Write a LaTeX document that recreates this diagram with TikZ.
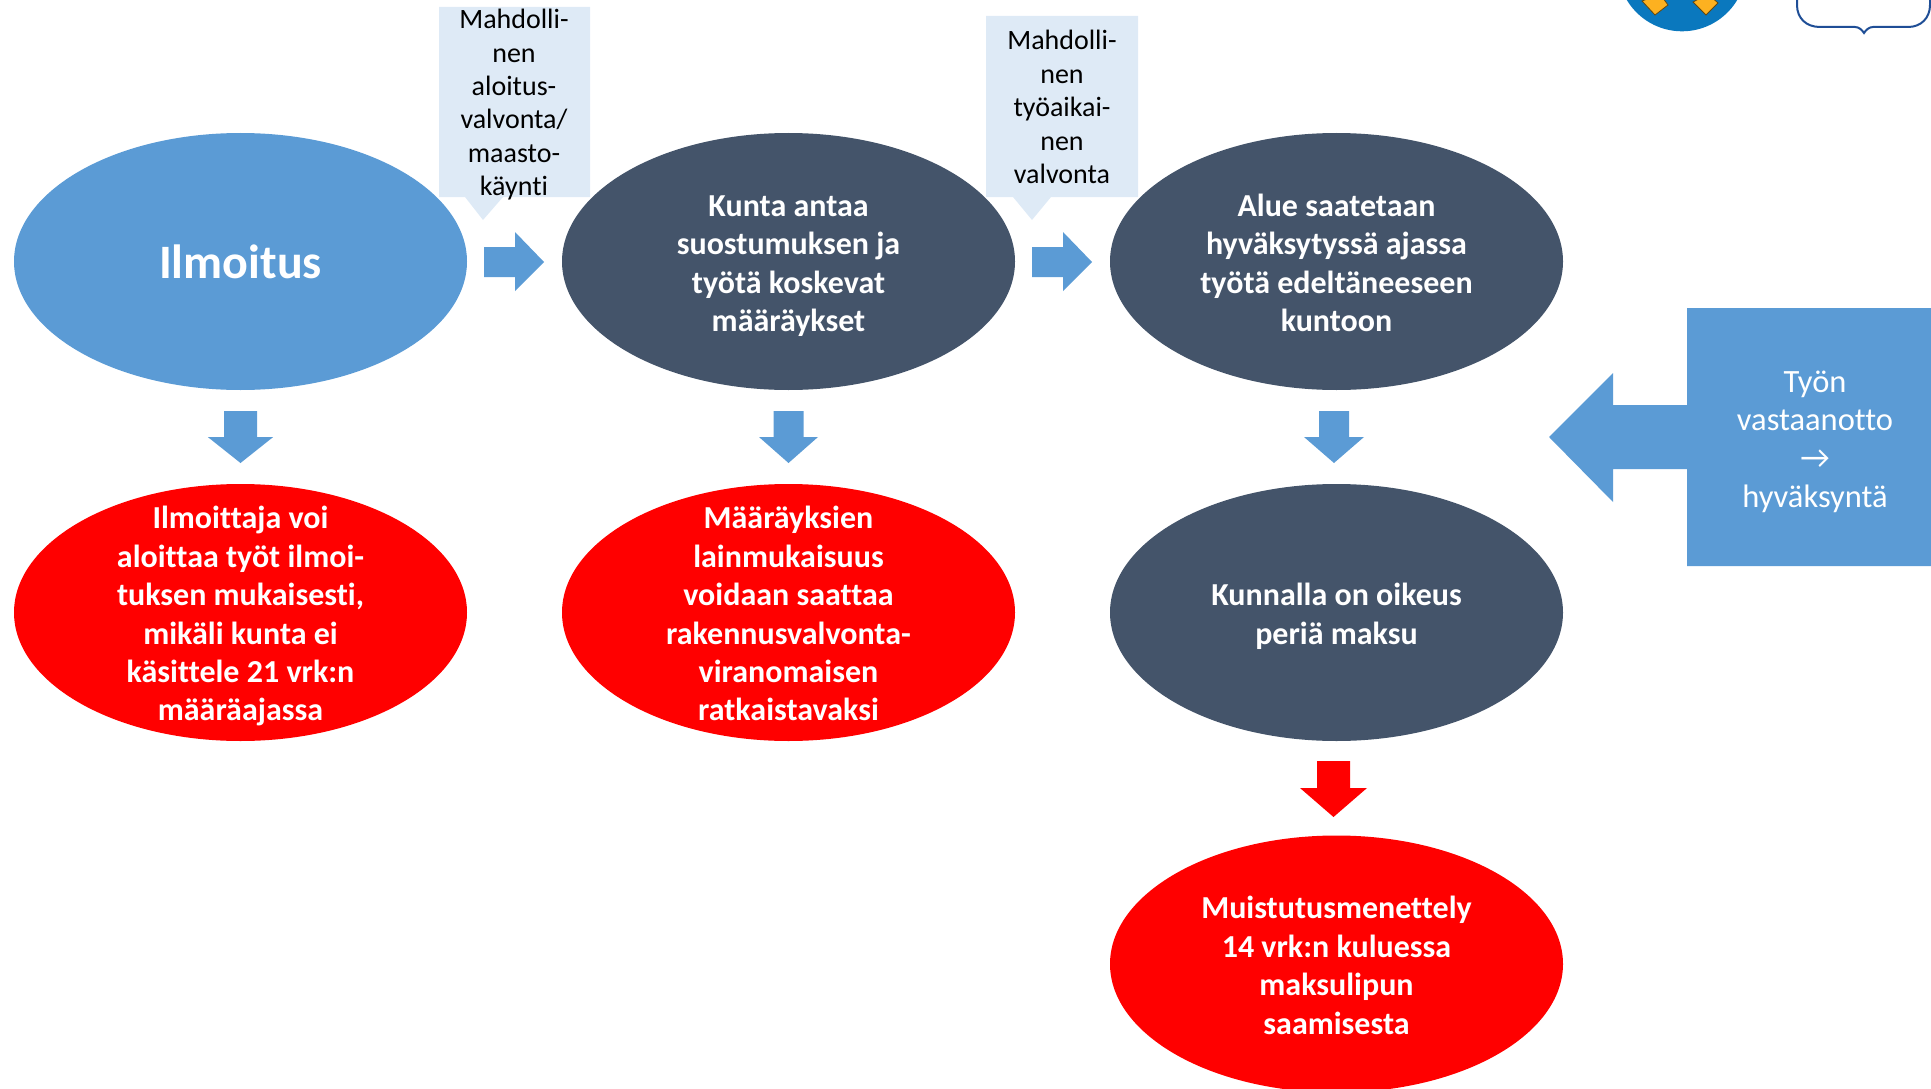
\documentclass[tikz,border=0pt]{standalone}
\usepackage{fontspec}
\setmainfont[RawFeature={-liga;-clig;-dlig}]{Carlito}
\usetikzlibrary{shapes.geometric}
\definecolor{lblue}{HTML}{5B9BD5}
\definecolor{slate}{HTML}{44546A}
\definecolor{pale}{HTML}{DEEAF6}
\definecolor{navy}{HTML}{1F4E96}
\definecolor{logob}{HTML}{0A78BE}
\definecolor{logoy}{HTML}{FDB120}
\tikzset{
  oval/.style={ellipse,draw=none,inner sep=0pt,minimum width=453pt,minimum height=257pt},
  blueoval/.style={oval,fill=lblue},
  slateoval/.style={oval,fill=slate},
  redoval/.style={oval,fill=red},
  ovaltext/.style={text=white,align=center,inner sep=0pt,yshift=-4.8pt,font=\fontsize{32}{38.4}\selectfont\bfseries},
  bigtext/.style={text=white,align=center,inner sep=0pt,font=\fontsize{48}{50}\selectfont\bfseries},
  calltext/.style={text=black,align=center,inner sep=0pt,font=\fontsize{28}{33.4}\selectfont},
  sidetext/.style={text=white,align=center,inner sep=0pt,font=\fontsize{32.5}{38.4}\selectfont},
  shapeblue/.style={fill=lblue,draw=none},
  shapered/.style={fill=red,draw=none},
  shapepale/.style={fill=pale,draw=none},
}
% center x, top y, head y, tip y, half width, half shaft, style
\newcommand{\downarrowshape}[7]{%
  \fill[#7] (#1-#6,#2) -- (#1+#6,#2) -- (#1+#6,#3) -- (#1+#5,#3) -- (#1,#4) -- (#1-#5,#3) -- (#1-#6,#3) -- cycle;}
\newcommand{\rightarrowshape}[1]{% left x
  \fill[shapeblue] (#1,247) -- (#1+31,247) -- (#1+31,232) -- (#1+60,262) -- (#1+31,291) -- (#1+31,277) -- (#1,277) -- cycle;}
\begin{document}
\begin{tikzpicture}[x=1pt,y=-1pt]
\useasboundingbox (0,0) rectangle (1931,1089);
\clip (0,0) rectangle (1931,1089);
% logo and bubble
\fill[logob] (1682,-33) circle (64.3);
\filldraw[fill=logoy,draw=black!60!logoy,line width=0.8pt] (1642,1) -- (1655,15) -- (1668,5) -- (1660,-6) -- cycle;
\filldraw[fill=logoy,draw=black!60!logoy,line width=0.8pt] (1693,2) -- (1706,15) -- (1718,3) -- (1708,-6) -- cycle;
\draw[navy,line width=2pt] (1797,-5) -- (1797,5) .. controls (1797,18) and (1806,27) .. (1820,27) -- (1855,27) .. controls (1859,27) and (1862,30) .. (1864,33) .. controls (1866,30) and (1869,27) .. (1873,27) -- (1908,27) .. controls (1921,27) and (1930,18) .. (1930,5) -- (1930,-5);
% callouts
\fill[shapepale] (439,7) -- (590,7) -- (590,197) -- (503,197) -- (483,220) -- (465,197) -- (439,197) -- cycle;
\fill[shapepale] (986,16) -- (1138,16) -- (1138,197) -- (1051,197) -- (1032,220) -- (1013,197) -- (986,197) -- cycle;
\node[calltext] (c1) at (514,105.5) {\strut Mahdolli-\\nen\\aloitus-\\valvonta/\\maasto-\\käynti\strut};
\node[calltext] (c2) at (1062,110) {\strut Mahdolli-\\nen\\työaikai-\\nen\\valvonta\strut};
% ovals
\node[blueoval] (a1) at (240.5,261.5) {};
\node[slateoval] (b1) at (788.5,261.5) {};
\node[slateoval] (d1) at (1336.5,261.5) {};
\node[redoval] (a2) at (240.5,612.5) {};
\node[redoval] (b2) at (788.5,612.5) {};
\node[slateoval] (d2) at (1336.5,612.5) {};
\node[redoval] (d3) at (1336.5,964) {};
\node[bigtext] (ta1) at (a1) {Ilmoitus};
\node[ovaltext] (tb1) at (b1) {\strut Kunta antaa\\suostumuksen ja\\työtä koskevat\\määräykset\strut};
\node[ovaltext] (td1) at (d1) {\strut Alue saatetaan\\hyväksytyssä ajassa\\työtä edeltäneeseen\\kuntoon\strut};
\node[ovaltext] (ta2) at (a2) {\strut Ilmoittaja voi\\aloittaa työt ilmoi-\\tuksen mukaisesti,\\mikäli kunta ei\\käsittele 21 vrk:n\\määräajassa\strut};
\node[ovaltext] (tb2) at (b2) {\strut Määräyksien\\lainmukaisuus\\voidaan saattaa\\rakennusvalvonta-\\viranomaisen\\ratkaistavaksi\strut};
\node[ovaltext] (td2) at (d2) {\strut Kunnalla on oikeus\\periä maksu\strut};
\node[ovaltext] (td3) at (d3) {\strut Muistutusmenettely\\14 vrk:n kuluessa\\maksulipun\\saamisesta\strut};
% block arrows
\rightarrowshape{484}
\rightarrowshape{1032}
\downarrowshape{240.5}{411}{437}{463}{32.7}{16.5}{shapeblue}
\downarrowshape{788.5}{411}{437}{463}{29.5}{15}{shapeblue}
\downarrowshape{1334}{411}{437}{463}{30}{15}{shapeblue}
\downarrowshape{1333.5}{761}{788}{817}{33.5}{16.5}{shapered}
% side box
\fill[shapeblue] (1687,308) -- (1931,308) -- (1931,566) -- (1687,566) -- (1687,469) -- (1613,469) -- (1613,502) -- (1549,437) -- (1613,373) -- (1613,405) -- (1687,405) -- cycle;
\node[sidetext] (s) at (1815,442) {\strut Työn\\vastaanotto\\→\\hyväksyntä\strut};
\end{tikzpicture}
\end{document}
